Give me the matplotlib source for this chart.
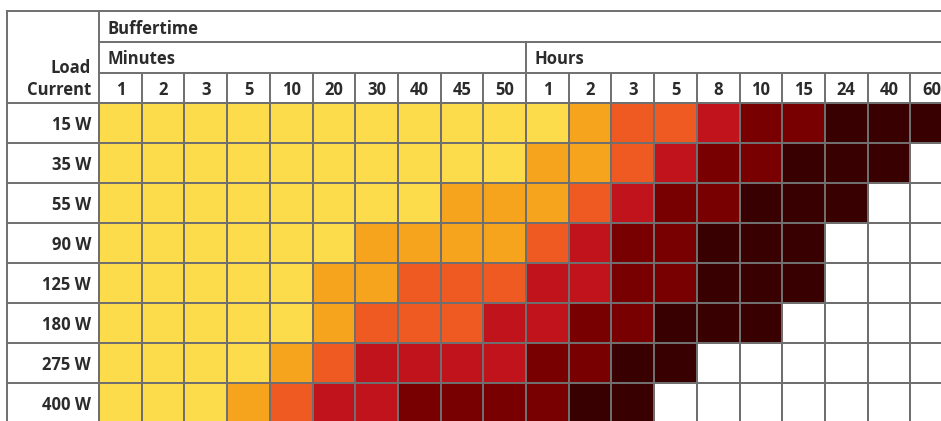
import numpy as np
import matplotlib.pyplot as plt
from matplotlib.colors import ListedColormap

plt.rcParams['font.family'] = ['Open Sans', 'DejaVu Sans']

load_labels = ["15 W", "35 W", "55 W", "90 W", "125 W", "180 W", "275 W", "400 W"]
minute_ticks = ["1", "2", "3", "5", "10", "20", "30", "40", "45", "50"]
hour_ticks = ["1", "2", "3", "5", "8", "10", "15", "24", "40", "60"]

# colour class per cell, 0 = shortest ... 5 = longest, None = not possible
N = None
levels_minutes = [
    [0, 0, 0, 0, 0, 0, 0, 0, 0, 0],
    [0, 0, 0, 0, 0, 0, 0, 0, 0, 0],
    [0, 0, 0, 0, 0, 0, 0, 0, 1, 1],
    [0, 0, 0, 0, 0, 0, 1, 1, 1, 1],
    [0, 0, 0, 0, 0, 1, 1, 2, 2, 2],
    [0, 0, 0, 0, 0, 1, 2, 2, 2, 3],
    [0, 0, 0, 0, 1, 2, 3, 3, 3, 3],
    [0, 0, 0, 1, 2, 3, 3, 4, 4, 4],
]
levels_hours = [
    [0, 1, 2, 2, 3, 4, 4, 5, 5, 5],
    [1, 1, 2, 3, 4, 4, 5, 5, 5, N],
    [1, 2, 3, 4, 4, 5, 5, 5, N, N],
    [2, 3, 4, 4, 5, 5, 5, N, N, N],
    [3, 3, 4, 4, 5, 5, 5, N, N, N],
    [3, 4, 4, 5, 5, 5, N, N, N, N],
    [4, 4, 5, 5, N, N, N, N, N, N],
    [4, 5, 5, N, N, N, N, N, N, N],
]

palette = ["#FDDC4C", "#F6A41E", "#EF5A22", "#C0131C", "#790000", "#380000"]
grid_col = "#6f6f6f"
text_col = "#2b2b2b"
lw = 1.4

vals = np.array([m + h for m, h in zip(levels_minutes, levels_hours)], dtype=float)
data = np.ma.masked_invalid(vals)
cmap = ListedColormap(palette)
cmap.set_bad("white")

fig = plt.figure(figsize=(9.41, 4.21), dpi=100)
ax = fig.add_axes([0, 0, 1, 1])

# one unit = one cell (42.7 x 40 px)
cw, rh = 42.7, 40.0
x0, y0 = 99.0, 103.0
ax.set_xlim(-x0 / cw, (941 - x0) / cw)
ax.set_ylim((421 - y0) / rh, -y0 / rh)
ax.set_axis_off()

ncol = vals.shape[1]
nrow = vals.shape[0]
ax.pcolormesh(np.arange(ncol + 1), np.arange(nrow + 1), data, cmap=cmap,
              vmin=-0.5, vmax=5.5, edgecolors=grid_col, linewidth=lw)

# header geometry
left = (7 - x0) / cw
right = ncol + 1
y_top = (11 - y0) / rh
y_sub = (42 - y0) / rh
y_num = (72.5 - y0) / rh

for y in [y_top, y_sub, y_num]:
    ax.plot([0, right], [y, y], color=grid_col, lw=lw)
ax.plot([left, 0], [y_top, y_top], color=grid_col, lw=lw)
for i in range(nrow + 1):
    ax.plot([left, 0], [i, i], color=grid_col, lw=lw)
ax.plot([left, left], [y_top, nrow], color=grid_col, lw=lw)
ax.plot([0, 0], [y_top, nrow], color=grid_col, lw=lw)
for j in range(1, ncol + 1):
    ax.plot([j, j], [y_num, 0], color=grid_col, lw=lw)
ax.plot([10, 10], [y_sub, y_num], color=grid_col, lw=lw)

fs = 12
pad = 8 / cw
dy = 0.05
kw = dict(fontsize=fs, fontweight="bold", color=text_col, va="center")
ax.text(pad, (y_top + y_sub) / 2 + dy, "Buffertime", ha="left", **kw)
ax.text(pad, (y_sub + y_num) / 2 + dy, "Minutes", ha="left", **kw)
ax.text(10 + pad, (y_sub + y_num) / 2 + dy, "Hours", ha="left", **kw)
for j, t in enumerate(minute_ticks + hour_ticks):
    ax.text(j + 0.5, y_num / 2 + dy, t, ha="center", **kw)
rx = -8 / cw
ax.text(rx, -0.88, "Load", ha="right", **kw)
ax.text(rx, y_num / 2 + dy, "Current", ha="right", **kw)
for i, lab in enumerate(load_labels):
    ax.text(rx, i + 0.5 + dy, lab, ha="right", **kw)

fig.savefig("out.png", dpi=100)
